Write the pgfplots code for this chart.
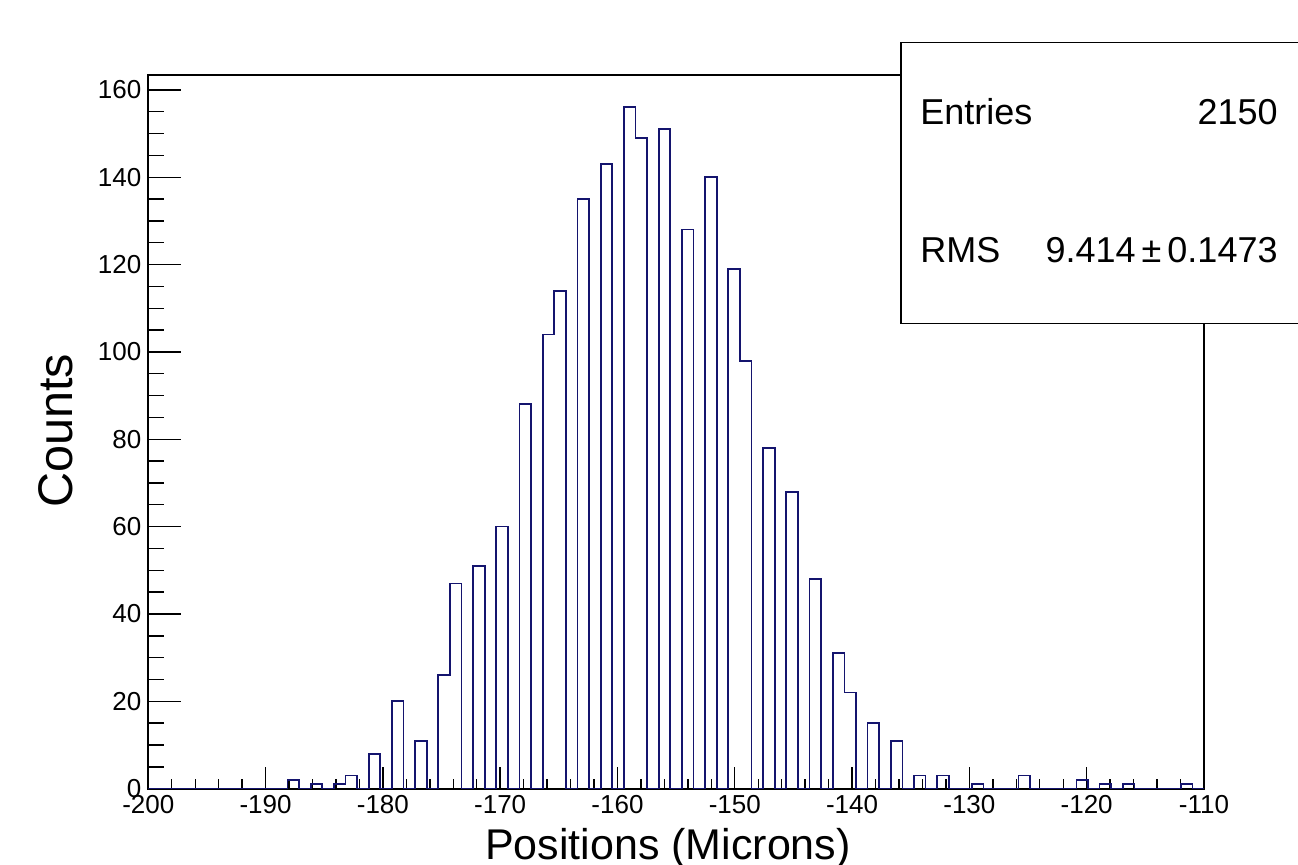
\documentclass[border=0pt]{standalone}
\usepackage{pgfplots}
\pgfplotsset{compat=1.18}
\usepackage{fontspec}
\setmainfont{Liberation Sans}
\definecolor{histblue}{RGB}{20,20,110}

\begin{document}
\begin{tikzpicture}
% 1 px of the reference = 0.5pt, origin at the top-left corner of the picture
\begin{axis}[
    at={(74.15pt,-394.35pt)}, anchor=south west,
    scale only axis, width=527.85pt, height=356.85pt,
    xmin=-200, xmax=-110, ymin=0, ymax=163.4,
    xtick distance=10, ytick distance=20,
    minor x tick num=4, minor y tick num=3,
    tick align=inside, tick pos=left,
    axis line style={line width=0.85pt},
    every tick/.append style={black, line width=0.7pt},
    xtick style={/pgfplots/major tick length=10.8pt, /pgfplots/minor tick length=5pt},
    ytick style={/pgfplots/major tick length=16.5pt, /pgfplots/minor tick length=8pt},
    tick label style={font=\fontsize{13}{15}\selectfont},
    /pgf/number format/assume math mode=true,
    /pgf/number format/1000 sep={},
]
\addplot[const plot mark left, histblue, line width=0.85pt] coordinates {
(-200,0) (-199.0110,0) (-198.0220,0) (-197.0330,0) (-196.0440,0) (-195.0549,0)
(-194.0659,0) (-193.0769,0) (-192.0879,0) (-191.0989,0) (-190.1099,0) (-189.1209,0)
(-188.1319,2) (-187.1429,0) (-186.1538,1) (-185.1648,0) (-184.1758,1) (-183.1868,3)
(-182.1978,0) (-181.2088,8) (-180.2198,0) (-179.2308,20) (-178.2418,0) (-177.2527,11)
(-176.2637,0) (-175.2747,26) (-174.2857,47) (-173.2967,0) (-172.3077,51) (-171.3187,0)
(-170.3297,60) (-169.3407,0) (-168.3516,88) (-167.3626,0) (-166.3736,104) (-165.3846,114)
(-164.3956,0) (-163.4066,135) (-162.4176,0) (-161.4286,143) (-160.4396,0) (-159.4505,156)
(-158.4615,149) (-157.4725,0) (-156.4835,151) (-155.4945,0) (-154.5055,128) (-153.5165,0)
(-152.5275,140) (-151.5385,0) (-150.5495,119) (-149.5604,98) (-148.5714,0) (-147.5824,78)
(-146.5934,0) (-145.6044,68) (-144.6154,0) (-143.6264,48) (-142.6374,0) (-141.6484,31)
(-140.6593,22) (-139.6703,0) (-138.6813,15) (-137.6923,0) (-136.7033,11) (-135.7143,0)
(-134.7253,3) (-133.7363,0) (-132.7473,3) (-131.7582,0) (-130.7692,0) (-129.7802,1)
(-128.7912,0) (-127.8022,0) (-126.8132,0) (-125.8242,3) (-124.8352,0) (-123.8462,0)
(-122.8571,0) (-121.8681,0) (-120.8791,2) (-119.8901,0) (-118.9011,1) (-117.9121,0)
(-116.9231,1) (-115.9341,0) (-114.9451,0) (-113.9560,0) (-112.9670,0) (-111.9780,1)
(-110.9890,0) (-110,0)
};
\end{axis}

% axis titles
\node[rotate=90, anchor=base, font=\fontsize{24.3}{27}\selectfont] at (36pt,-215.5pt) {Counts};
\node[anchor=base, font=\fontsize{21.5}{24}\selectfont] at (334pt,-430pt) {Positions (Microns)};

% statistics box
\filldraw[fill=white, draw=black, line width=0.7pt] (450.5pt,-21.35pt) rectangle (660pt,-161.65pt);
\begin{scope}[font=\fontsize{18}{21}\selectfont]
\node[anchor=base west, inner sep=0pt] at (460pt,-62.5pt) {Entries};
\node[anchor=base east, inner sep=0pt] at (639pt,-62.5pt) {2150};
\node[anchor=base west, inner sep=0pt] at (460pt,-131.5pt) {RMS};
\node[anchor=base east, inner sep=0pt] at (639pt,-131.5pt) {9.414\,±\,0.1473};
\end{scope}

\pgfresetboundingbox
\useasboundingbox (0pt,0pt) rectangle (649pt,-432.5pt);
\end{tikzpicture}
\end{document}
